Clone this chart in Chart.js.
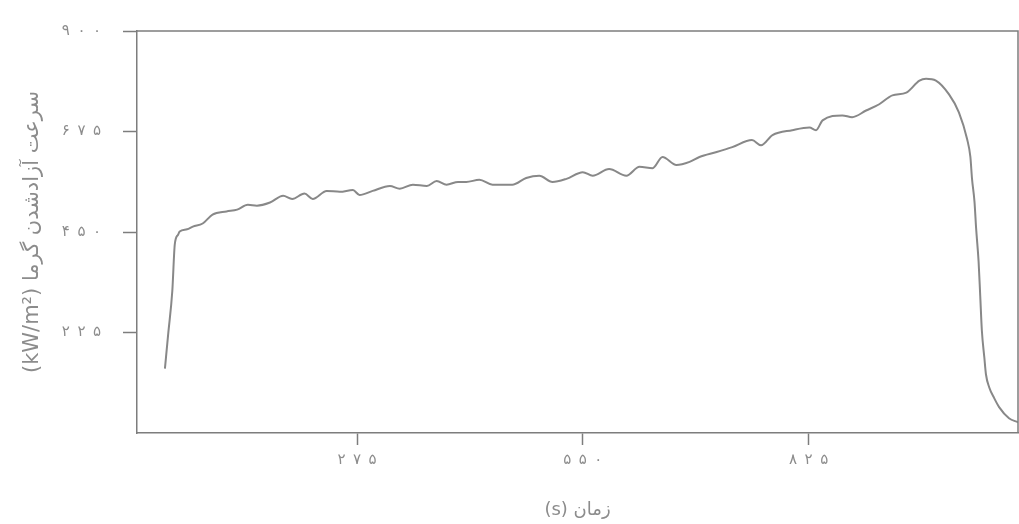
<!DOCTYPE html>
<html>
<head>
<meta charset="utf-8">
<script src="https://cdn.jsdelivr.net/npm/chart.js@4"></script>
<style>
  body { margin: 0; background: #fff; }
  #wrap { width: 1019px; height: 524px; }
</style>
</head>
<body>
<div id="wrap"><canvas id="chart"></canvas></div>
<script>
// time (s) and heat release rate (kW/m2)
const timeS = [41, 45, 50, 53, 57, 59, 68, 75, 87, 99, 116, 129, 142, 153, 169, 185, 196, 211, 221, 238,
  254, 270, 278, 294, 315, 327, 343, 360, 372, 384, 398, 408, 424, 440, 464, 481, 497, 513, 530, 550,
  562, 582, 603, 619, 635, 647, 664, 680, 692, 713, 732, 756, 767, 781, 805, 826, 834, 842, 866, 878,
  895, 911, 927, 944, 960, 968, 980, 996, 1008, 1018, 1022, 1024, 1027, 1029, 1032, 1034, 1036, 1039,
  1041, 1045, 1051, 1057, 1069, 1080];
const hrr = [144, 222, 318, 422, 444, 451, 456, 462, 469, 489, 496, 500, 511, 509, 516, 531, 524, 536, 524, 542,
  540, 544, 533, 542, 553, 547, 556, 553, 564, 556, 562, 562, 567, 556, 556, 571, 576, 562, 569, 584,
  576, 591, 576, 596, 593, 618, 600, 607, 618, 629, 640, 656, 644, 667, 678, 684, 678, 700, 711, 707,
  722, 736, 756, 762, 789, 793, 789, 758, 718, 658, 618, 569, 518, 458, 384, 307, 229, 169,
  131, 102, 78, 58, 33, 24];

const xTicks = [275, 550, 825];
const xTickLabels = ['۲۷۵', '۵۵۰', '۸۲۵'];
const yTicks = [225, 450, 675, 900];
const yTickLabels = ['۲۲۵', '۴۵۰', '۶۷۵', '۹۰۰'];

const xTitle = 'زمان (s)';
const yTitle = 'سرعت آزادشدن گرما (kW/m²)';

const grey = '#7d7d7d';
const textGrey = '#8c8c8c';

const points = timeS.map((t, i) => ({ x: t, y: hrr[i] }));

// digits in the picture are set wide apart
function spaced(s) {
  return s.split('').join('\u2002');
}
// lay a title out right-to-left inside the ltr canvas
function rtl(s) {
  return '\u2067' + s + '\u2069';
}

// box around the plot (top and right edges)
const frame = {
  id: 'frame',
  afterDraw(chart) {
    const a = chart.chartArea;
    const c = chart.ctx;
    c.save();
    c.strokeStyle = grey;
    c.lineWidth = 1.5;
    c.beginPath();
    c.moveTo(a.left, a.top);
    c.lineTo(a.right, a.top);
    c.lineTo(a.right, a.bottom);
    c.stroke();
    c.restore();
  }
};

new Chart(document.getElementById('chart'), {
  type: 'line',
  data: {
    datasets: [{
      data: points,
      borderColor: '#888888',
      borderWidth: 2,
      pointRadius: 0,
      cubicInterpolationMode: 'monotone',
      fill: false
    }]
  },
  options: {
    responsive: true,
    maintainAspectRatio: false,
    animation: false,
    layout: { padding: { top: 25, right: 1, left: 0, bottom: 0 } },
    plugins: { legend: { display: false }, tooltip: { enabled: false } },
    scales: {
      x: {
        type: 'linear',
        min: 7,
        max: 1080,
        afterBuildTicks: (axis) => { axis.ticks = xTicks.map(v => ({ value: v })); },
        afterFit: (axis) => { axis.height = 91; },
        ticks: {
          color: textGrey,
          padding: 6,
          font: { family: 'DejaVu Sans', size: 15 },
          callback: (v) => spaced(xTickLabels[xTicks.indexOf(v)])
        },
        grid: { drawOnChartArea: false, drawTicks: true, tickLength: 12, tickColor: grey, tickWidth: 1.5 },
        border: { display: true, color: grey, width: 1.5 },
        title: {
          display: true,
          text: rtl(xTitle),
          color: textGrey,
          font: { family: 'DejaVu Sans', size: 18 },
          padding: { top: 0, bottom: 3 }
        }
      },
      y: {
        min: 0,
        max: 900,
        afterBuildTicks: (axis) => { axis.ticks = yTicks.map(v => ({ value: v })); },
        afterFit: (axis) => { axis.width = 137; },
        ticks: {
          color: textGrey,
          padding: 22,
          font: { family: 'DejaVu Sans', size: 15 },
          callback: (v) => spaced(yTickLabels[yTicks.indexOf(v)])
        },
        grid: { drawOnChartArea: false, drawTicks: true, tickLength: 14, tickColor: grey, tickWidth: 1.5 },
        border: { display: true, color: grey, width: 1.5 },
        title: {
          display: true,
          text: rtl(yTitle),
          color: textGrey,
          font: { family: 'DejaVu Sans', size: 21 },
          padding: { top: 20, bottom: 0 }
        }
      }
    }
  },
  plugins: [frame]
});
</script>
</body>
</html>
